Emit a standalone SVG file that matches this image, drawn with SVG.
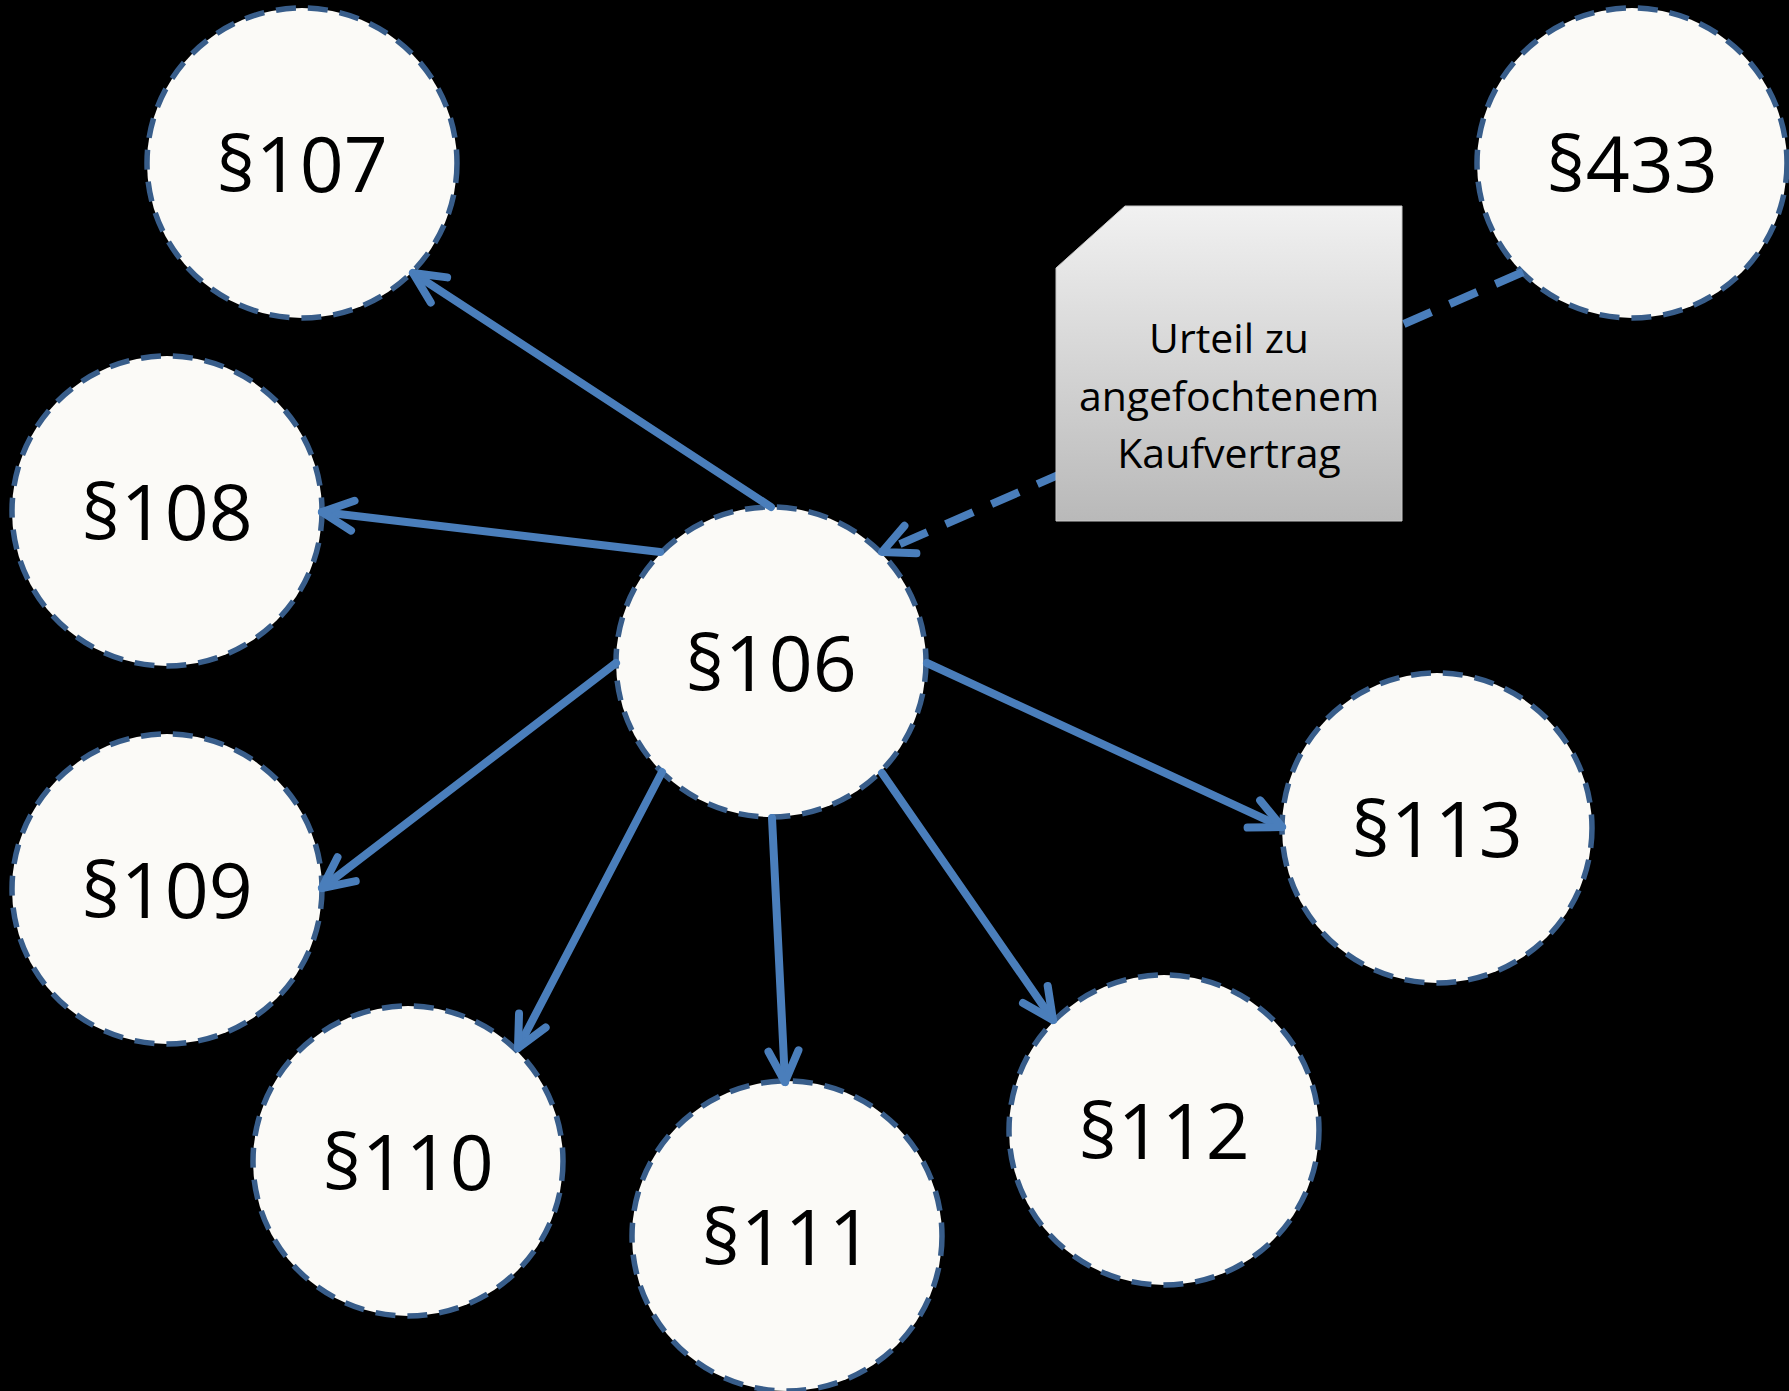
<svg xmlns="http://www.w3.org/2000/svg" width="1789" height="1391" viewBox="0 0 1789 1391">
<style>
.node circle{fill:#fbfaf7;stroke:#385d8a;stroke-width:5.5;stroke-dasharray:20 12}
.lbl{font-family:"Open Sans","Liberation Sans",sans-serif;font-size:77px;fill:#000;text-anchor:middle}
.conn{stroke:#4a7ebb;stroke-width:8;stroke-linecap:round;fill:none;marker-end:url(#arr)}
.dash{stroke-dasharray:30 20;stroke-linecap:butt}
.note-txt{font-family:"Open Sans","Liberation Sans",sans-serif;font-size:41px;fill:#000;text-anchor:middle}
</style>
<defs>
<marker id="arr" markerUnits="userSpaceOnUse" viewBox="-45 -25 55 50" refX="0" refY="0" markerWidth="55" markerHeight="50" orient="auto" overflow="visible">
<path d="M -31 -15 L 0 0 L -31 15" fill="none" stroke="#4a7ebb" stroke-width="8" stroke-linecap="round" stroke-linejoin="round" stroke-dasharray="none"/>
</marker>
<linearGradient id="ng" x1="0" y1="0" x2="0" y2="1">
<stop offset="0" stop-color="#f1f1f1"/>
<stop offset="1" stop-color="#b9b9b9"/>
</linearGradient>
</defs>
<rect width="1789" height="1391" fill="#000"/>
<g id="nodes">
<g id="n106" class="node"><circle cx="771" cy="662" r="155"/><text class="lbl" x="771" y="691">§106</text></g>
<g id="n107" class="node"><circle cx="302" cy="163" r="155"/><text class="lbl" x="302" y="192">§107</text></g>
<g id="n108" class="node"><circle cx="167" cy="511" r="155"/><text class="lbl" x="167" y="540">§108</text></g>
<g id="n109" class="node"><circle cx="167" cy="889" r="155"/><text class="lbl" x="167" y="918">§109</text></g>
<g id="n110" class="node"><circle cx="408" cy="1161" r="155"/><text class="lbl" x="408" y="1190">§110</text></g>
<g id="n111" class="node"><circle cx="787" cy="1236" r="155"/><text class="lbl" x="787" y="1265">§111</text></g>
<g id="n112" class="node"><circle cx="1164" cy="1130" r="155"/><text class="lbl" x="1164" y="1159">§112</text></g>
<g id="n113" class="node"><circle cx="1437" cy="828" r="155"/><text class="lbl" x="1437" y="857">§113</text></g>
<g id="n433" class="node"><circle cx="1632" cy="163" r="155"/><text class="lbl" x="1632" y="192">§433</text></g>
</g>
<g id="connectors">
<line class="conn" x1="771" y1="507" x2="413" y2="273"/>
<line class="conn" x1="660" y1="552" x2="322" y2="512"/>
<line class="conn" x1="616" y1="663" x2="322" y2="888"/>
<line class="conn" x1="662" y1="772" x2="518" y2="1048"/>
<line class="conn" x1="772" y1="818" x2="785" y2="1082"/>
<line class="conn" x1="882" y1="773" x2="1053" y2="1020"/>
<line class="conn" x1="927" y1="663" x2="1282" y2="827"/>
<line class="conn dash" x1="1523" y1="272" x2="882" y2="552"/>
</g>
<g id="note">
<path d="M 1125 206 L 1402 206 L 1402 521 L 1056 521 L 1056 268 Z" fill="url(#ng)" stroke="#c8c8c8" stroke-width="1"/>
<text class="note-txt" x="1229" y="353">Urteil zu</text>
<text class="note-txt" x="1229" y="411">angefochtenem</text>
<text class="note-txt" x="1229" y="468">Kaufvertrag</text>
</g>
</svg>
